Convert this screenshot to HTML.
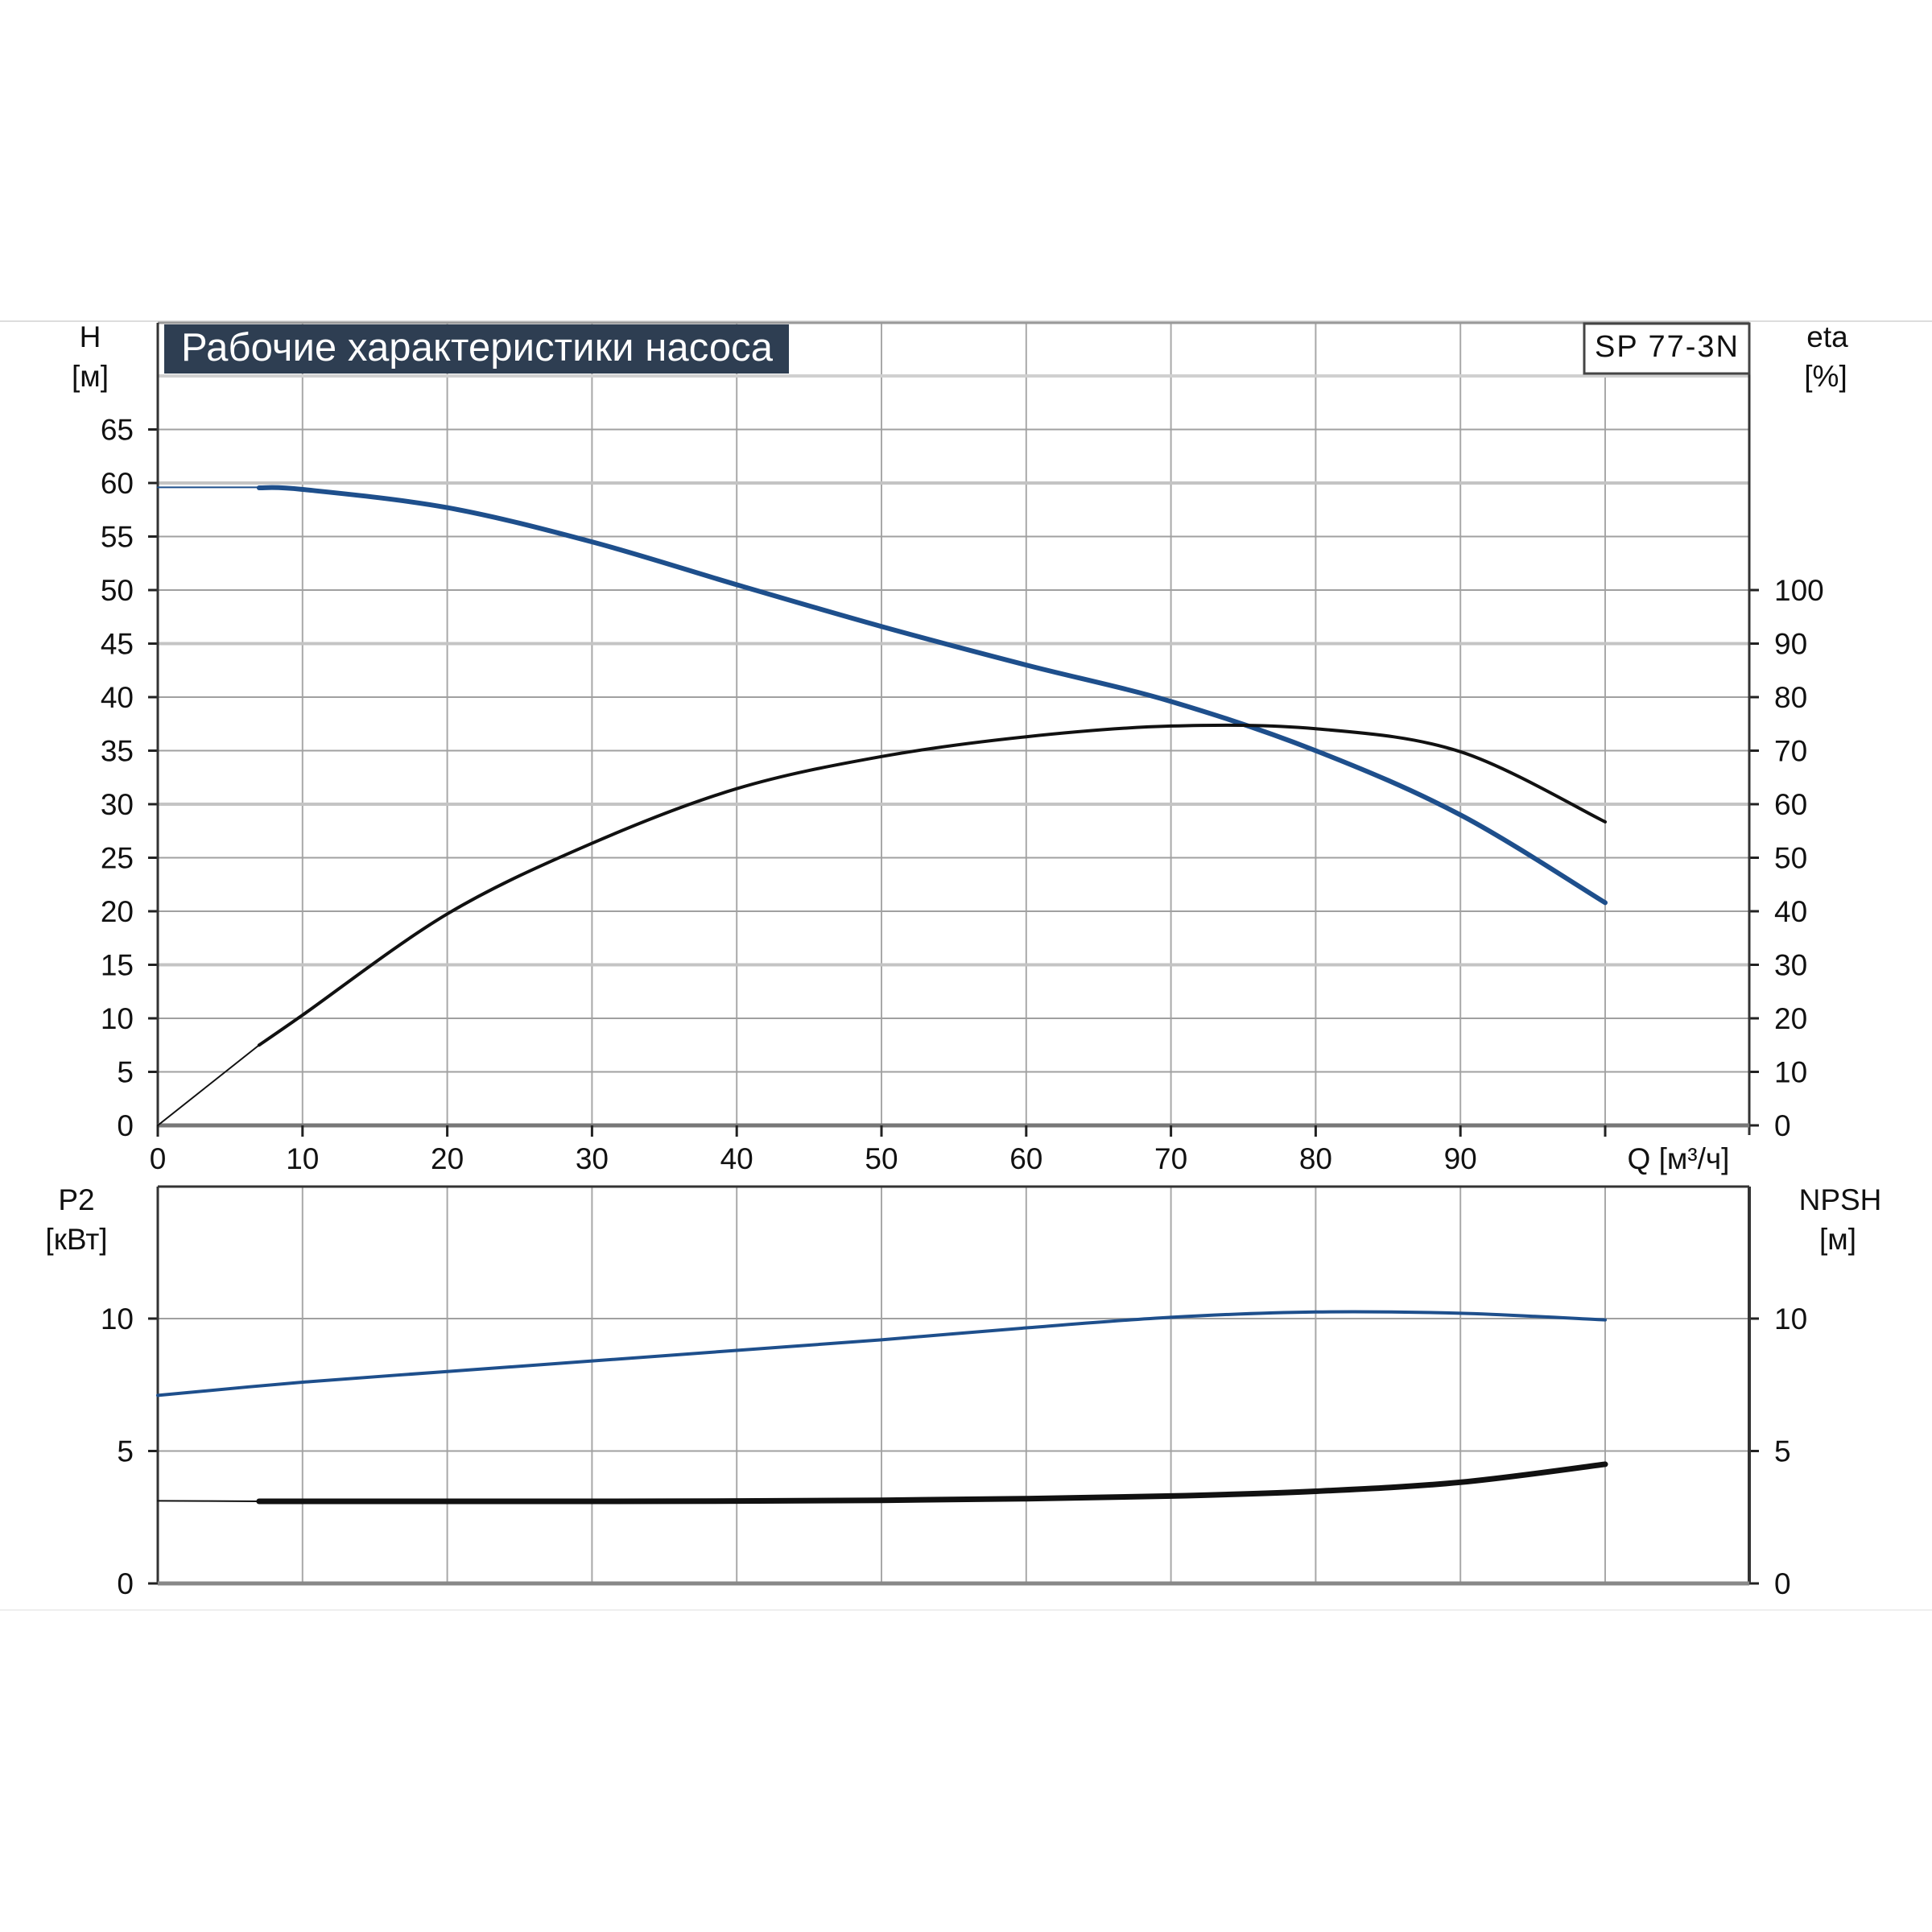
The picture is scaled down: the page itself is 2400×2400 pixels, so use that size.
<!DOCTYPE html>
<html><head><meta charset="utf-8"><style>
html,body{margin:0;padding:0;background:#fff;}
svg{display:block;}
text{font-family:"Liberation Sans",sans-serif;fill:#111;}
</style></head><body>
<svg id="s" width="2400" height="2400" viewBox="0 0 2400 2400" xmlns="http://www.w3.org/2000/svg">
<line x1="0" y1="399" x2="2400" y2="399" stroke="#ddd" stroke-width="2"/>
<line x1="0" y1="2000" x2="2400" y2="2000" stroke="#eee" stroke-width="2"/>
<g id="g"></g>
</svg>
<script>
var g=document.getElementById('g');var NS='http://www.w3.org/2000/svg';
function el(t,a,txt){var e=document.createElementNS(NS,t);for(var k in a)e.setAttribute(k,a[k]);if(txt!==undefined)e.textContent=txt;g.appendChild(e);return e;}
var X0=196,XR=2173,dx=17.98,FS=37;
function X(q){return X0+q*dx;}
var Y0=1398,hy=13.3; function YH(h){return Y0-h*hy;}
var L0=1967,ly=32.9; function YL(p){return L0-p*ly;}
for(var q=10;q<=100;q+=10) el('line',{x1:X(q),y1:401,x2:X(q),y2:Y0,stroke:'#a8a8a8','stroke-width':2});
for(var h=5;h<=65;h+=5){var lt=(h==60||h==45||h==30||h==15);
 el('line',{x1:X0,y1:YH(h),x2:XR,y2:YH(h),stroke:lt?'#c4c4c4':'#a0a0a0','stroke-width':lt?4:2});
 el('line',{x1:X0-12,y1:YH(h),x2:X0,y2:YH(h),stroke:'#222','stroke-width':3});}
el('line',{x1:X0,y1:467,x2:XR,y2:467,stroke:'#d0d0d0','stroke-width':4});
for(var h=0;h<=65;h+=5) el('text',{x:166,y:YH(h)+13,'font-size':FS,'text-anchor':'end'},h);
for(var e=0;e<=100;e+=10){el('line',{x1:XR,y1:YH(e/2),x2:XR+12,y2:YH(e/2),stroke:'#222','stroke-width':3});
 el('text',{x:2204,y:YH(e/2)+13,'font-size':FS},e);}
el('line',{x1:X0,y1:401,x2:XR,y2:401,stroke:'#999','stroke-width':3});
el('line',{x1:X0,y1:401,x2:X0,y2:Y0,stroke:'#333','stroke-width':3});
el('line',{x1:XR,y1:401,x2:XR,y2:Y0+12,stroke:'#333','stroke-width':3});
el('line',{x1:X0,y1:Y0,x2:XR,y2:Y0,stroke:'#777','stroke-width':5});
for(var q=0;q<=100;q+=10){el('line',{x1:X(q),y1:Y0,x2:X(q),y2:Y0+14,stroke:'#222','stroke-width':3});
 if(q<100) el('text',{x:X(q),y:1452,'font-size':FS,'text-anchor':'middle'},q);}
el('text',{x:2085,y:1452,'font-size':FS,'text-anchor':'middle'},'Q [м³/ч]');
el('text',{x:112,y:431,'font-size':FS,'text-anchor':'middle'},'H');
el('text',{x:112,y:480,'font-size':FS,'text-anchor':'middle'},'[м]');
el('text',{x:2270,y:431,'font-size':FS,'text-anchor':'middle'},'eta');
el('text',{x:2268,y:480,'font-size':FS,'text-anchor':'middle'},'[%]');
el('rect',{x:204,y:403,width:776,height:61,fill:'#2e3e52'});
el('text',{x:225,y:448,'font-size':49,style:'fill:#fff','textLength':735},'Рабочие характеристики насоса');
el('rect',{x:1968,y:402,width:205,height:62,fill:'#fff',stroke:'#444','stroke-width':3});
el('text',{x:2070,y:443,'font-size':38,'text-anchor':'middle','textLength':178},'SP 77-3N');
for(var q=10;q<=100;q+=10) el('line',{x1:X(q),y1:1474,x2:X(q),y2:L0,stroke:'#a8a8a8','stroke-width':2});
[5,10].forEach(function(p){el('line',{x1:X0,y1:YL(p),x2:XR,y2:YL(p),stroke:'#a0a0a0','stroke-width':2});});
[0,5,10].forEach(function(p){el('line',{x1:X0-12,y1:YL(p),x2:X0,y2:YL(p),stroke:'#222','stroke-width':3});
 el('line',{x1:XR,y1:YL(p),x2:XR+12,y2:YL(p),stroke:'#222','stroke-width':3});
 el('text',{x:166,y:YL(p)+13,'font-size':FS,'text-anchor':'end'},p);
 el('text',{x:2204,y:YL(p)+13,'font-size':FS},p);});
el('line',{x1:X0,y1:1474,x2:XR,y2:1474,stroke:'#333','stroke-width':3});
el('line',{x1:X0,y1:1474,x2:X0,y2:L0,stroke:'#333','stroke-width':3});
el('line',{x1:XR,y1:1474,x2:XR,y2:L0,stroke:'#333','stroke-width':4});
el('line',{x1:X0,y1:L0,x2:XR,y2:L0,stroke:'#888','stroke-width':5});
el('text',{x:95,y:1503,'font-size':FS,'text-anchor':'middle'},'P2');
el('text',{x:95,y:1552,'font-size':FS,'text-anchor':'middle'},'[кВт]');
el('text',{x:2286,y:1503,'font-size':FS,'text-anchor':'middle'},'NPSH');
el('text',{x:2283,y:1552,'font-size':FS,'text-anchor':'middle'},'[м]');
function path(pts,fy){var p=pts.map(function(a){return [X(a[0]),fy(a[1])];});
 var d='M'+p[0][0]+','+p[0][1];
 for(var i=0;i<p.length-1;i++){var p0=p[i-1]||p[i],p1=p[i],p2=p[i+1],p3=p[i+2]||p2;
  d+=' C'+(p1[0]+(p2[0]-p0[0])/6)+','+(p1[1]+(p2[1]-p0[1])/6)+' '+(p2[0]-(p3[0]-p1[0])/6)+','+(p2[1]-(p3[1]-p1[1])/6)+' '+p2[0]+','+p2[1];}
 return d;}
function curve(pts,fy,col,w){el('path',{d:path(pts,fy),fill:'none',stroke:col,'stroke-width':w,'stroke-linecap':'round'});}
var H=[[7,59.55],[10,59.4],[20,57.7],[30,54.5],[40,50.5],[50,46.6],[60,43.0],[70,39.6],[80,35],[90,29],[100,20.8]];
curve([[0,59.6],[7,59.6]],YH,'#1e4f8c',2);curve(H,YH,'#1e4f8c',6);
var E=[[7,15],[10,20.6],[20,39.5],[30,52.7],[40,62.9],[50,68.9],[60,72.6],[70,74.6],[80,74.1],[90,69.8],[100,56.7]];
curve([[0,0],[7,15]],function(v){return YH(v/2);},'#111',2);
curve(E,function(v){return YH(v/2);},'#111',4);
var P=[[0,7.1],[10,7.6],[20,8.0],[30,8.4],[40,8.8],[50,9.2],[60,9.65],[70,10.05],[80,10.25],[90,10.2],[100,9.95]];
curve(P,YL,'#1e4f8c',4);
var N=[[7,3.1],[20,3.1],[30,3.1],[40,3.11],[50,3.14],[60,3.2],[70,3.3],[80,3.48],[90,3.82],[100,4.5]];
curve([[0,3.12],[7,3.1]],YL,'#111',2);curve(N,YL,'#111',7);
</script>
</body></html>
